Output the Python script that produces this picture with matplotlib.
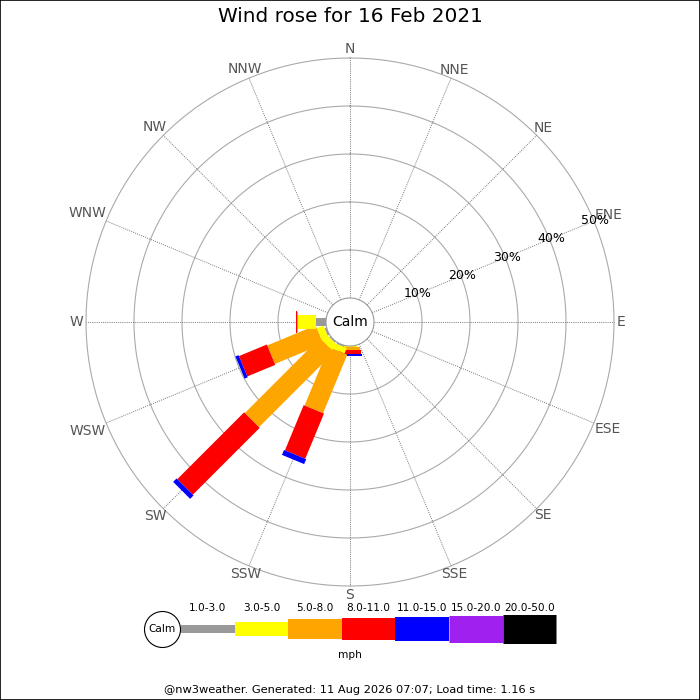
import numpy as np
import matplotlib
matplotlib.use("Agg")
import matplotlib.pyplot as plt

# ---------------- data ----------------
directions = ['N', 'NNE', 'NE', 'ENE', 'E', 'ESE', 'SE', 'SSE',
              'S', 'SSW', 'SW', 'WSW', 'W', 'WNW', 'NW', 'NNW']
speed_bins = ['1.0-3.0', '3.0-5.0', '5.0-8.0', '8.0-11.0',
              '11.0-15.0', '15.0-20.0', '20.0-50.0']
#            N  NNE NE ENE E ESE SE SSE  S    SSW   SW    WSW   W    WNW NW NNW
pct_1_3   = [0, 0, 0, 0, 0, 0, 0, 0, 0.0, 0.3, 0.3, 0.4, 2.0, 0, 0, 0]
pct_3_5   = [0, 0, 0, 0, 0, 0, 0, 0, 0.3, 1.2, 1.5, 1.5, 3.8, 0, 0, 0]
pct_5_8   = [0, 0, 0, 0, 0, 0, 0, 0, 0.5, 13.2, 22.1, 10.9, 0.2, 0, 0, 0]
pct_8_11  = [0, 0, 0, 0, 0, 0, 0, 0, 0.9, 10.2, 19.7, 6.3, 0.3, 0, 0, 0]
pct_11_15 = [0, 0, 0, 0, 0, 0, 0, 0, 0.3, 1.1, 1.0, 0.7, 0.0, 0, 0, 0]
pct_15_20 = [0] * 16
pct_20_50 = [0] * 16
ring_ticks = [10, 20, 30, 40, 50]
title = 'Wind rose for 16 Feb 2021'
footer = '@nw3weather. Generated: 11 Aug 2026 07:07; Load time: 1.16 s'

# ---------------- styles ----------------
bin_colors = ['#999999', '#ffff00', '#ffa500', '#ff0000', '#0000ff', '#a020f0', '#000000']
px = 0.72  # points per pixel at dpi 100
bin_widths = [8 * px, 14 * px, 20 * px, 22 * px, 24 * px, 27 * px, 29 * px]

series = [pct_1_3, pct_3_5, pct_5_8, pct_8_11, pct_11_15, pct_15_20, pct_20_50]

fig = plt.figure(figsize=(7, 7), dpi=100)
fig.patch.set_facecolor('white')

R_PX = 264.0
ax = fig.add_axes([86 / 700, 114 / 700, 2 * R_PX / 700, 2 * R_PX / 700], projection='polar')
ax.set_theta_zero_location('N')
ax.set_theta_direction(-1)
ax.set_rlim(0, 50)
ax.set_rorigin(-5)
ax.axis('off')
px_per_unit = R_PX / 55.0

theta_dir = np.deg2rad(np.arange(16) * 22.5)
theta_full = np.linspace(0, 2 * np.pi, 361)

# rings
for t in ring_ticks:
    ax.plot(theta_full, np.full_like(theta_full, t), color='#aaaaaa', lw=0.8, clip_on=False, zorder=1)

# radial lines
for th in theta_dir:
    ax.plot([th, th], [0, ring_ticks[-1]], color='#777777', lw=0.7,
            ls=(0, (1, 1.2)), clip_on=False, zorder=1)

# direction labels (placed so their box sits just outside the outer ring)
dir_texts = []
for th, name in zip(theta_dir, directions):
    dir_texts.append(ax.text(th, 52, name, ha='center', va='center', fontsize=10,
                             color='#555555', zorder=2))
fig.canvas.draw()
renderer = fig.canvas.get_renderer()
for th, txt in zip(theta_dir, dir_texts):
    bb = txt.get_window_extent(renderer)
    w = bb.width
    r_px = 267 + max((w / 2) * abs(np.sin(th)), 6 * abs(np.cos(th)))
    txt.set_position((th, r_px / px_per_unit - 5))

# ring labels
for t in ring_ticks:
    ax.text(np.deg2rad(67.5), t + 0.3, f'{t}%', ha='center', va='center', fontsize=9,
            color='black', zorder=6)

# bars
order = [8, 9, 10, 11, 12] + [i for i in range(16) if i not in (8, 9, 10, 11, 12)]
for i in order:
    start = 0.0
    for b in range(len(series)):
        v = series[b][i]
        if v <= 0:
            continue
        ax.plot([theta_dir[i], theta_dir[i]], [start, start + v], color=bin_colors[b],
                lw=bin_widths[b], solid_capstyle='butt', clip_on=False, zorder=3)
        start += v

# calm circle
ax.fill(theta_full, np.zeros_like(theta_full), facecolor='white', edgecolor='#999999',
        lw=0.8, clip_on=False, zorder=4)
ax.text(0.5, 0.5, 'Calm', transform=ax.transAxes, ha='center', va='center',
        fontsize=10, color='black', zorder=5)

# ---------------- legend ----------------
seg = 53.6
lax = fig.add_axes([(181 - seg) / 700, 35 / 700, 9 * seg / 700, 65 / 700])
lax.set_xlim(-1, 8)
lax.set_ylim(0, 1)
lax.axis('off')
bar_y = (665 - 629) / 65
lab_y = (665 - 608) / 65
for b, (lab, c, w) in enumerate(zip(speed_bins, bin_colors, bin_widths)):
    lax.plot([b, b + 1], [bar_y, bar_y], color=c, lw=w, solid_capstyle='butt')
    lax.text(b + 0.5, lab_y, lab, ha='center', va='center', fontsize=7.6, color='black')
calm_x = (162 - 181) / seg
lax.plot([calm_x], [bar_y], marker='o', markersize=36 * px, markerfacecolor='white',
         markeredgecolor='black', markeredgewidth=0.8, zorder=5)
lax.text(calm_x, bar_y, 'Calm', ha='center', va='center', fontsize=7.6, zorder=6)
fig.text(0.5, 1 - 655 / 700, 'mph', ha='center', va='center', fontsize=7.6)

# ---------------- title / footer / frame ----------------
fig.text(0.5, 1 - 17 / 700, title, ha='center', va='center', fontsize=14.4)
fig.text(0.5, 1 - 690 / 700, footer, ha='center', va='center', fontsize=8.2)
fig.add_artist(plt.Rectangle((0.0007, 0.0007), 0.9986, 0.9986, transform=fig.transFigure,
                             fill=False, edgecolor='black', lw=1.2))

fig.savefig('out.png', dpi=100)
